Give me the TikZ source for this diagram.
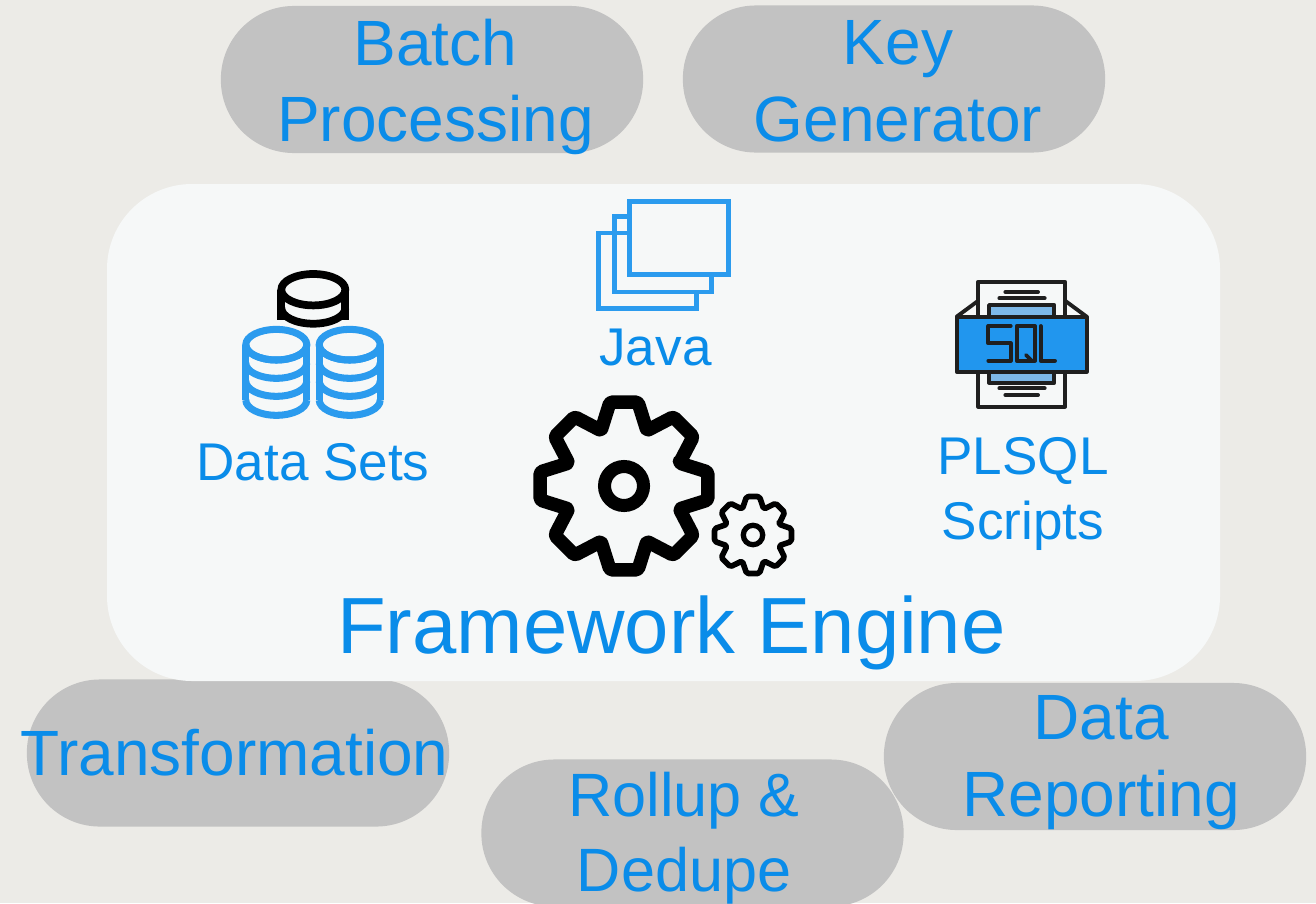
\documentclass[tikz,border=0pt]{standalone}
\usepackage{fontspec}
\setmainfont{Liberation Sans}
\definecolor{pagegray}{HTML}{ECEBE7}
\definecolor{pillgray}{HTML}{C2C2C2}
\definecolor{enginewhite}{HTML}{F6F8F8}
\definecolor{labelblue}{HTML}{0A8CE9}
\definecolor{iconblue}{HTML}{2B9BEE}
\definecolor{sqlblue}{HTML}{2196EE}
\definecolor{sqllight}{HTML}{7DB8E8}
\definecolor{sqldark}{HTML}{1F1F1F}

\newcommand{\gearicon}[5]{
    \begin{scope}[shift={(#1, #2)}]
        \draw[black, line width=#5, line join=round, rounded corners=.5pt] (-22.5:#4) \foreach \a in {0,45,...,315} {-- (\a-9.5:#3) -- (\a+9.5:#3) -- (\a+22.5:#4)} -- cycle;
    \end{scope}
}

\begin{document}
\begin{tikzpicture}[x=.01cm, y=-.01cm,
        pill/.style={fill=pillgray, rounded corners=.73cm, minimum width=4.22cm, minimum height=1.47cm, inner sep=0pt},
        pilltext/.style={text=labelblue, align=center, inner sep=0pt, font=\fontsize{18.2}{21.8}\selectfont},
        iconlabel/.style={text=labelblue, align=center, font=\fontsize{15.1}{18.4}\selectfont},
        tube/.style={iconblue, line width=2pt},
        sheet/.style={iconblue, line width=1.35pt},
        sqlline/.style={sqldark, line width=1.1pt, line join=round, line cap=round}]
                \path[use as bounding box, fill=pagegray] (0, 0) rectangle (1316, 903);
                \clip (0, 0) rectangle (1316, 903);

                \node[pill] (batch) at (432, 79.5) {};
                \node[pill] (key) at (894, 79) {};
                \node[pill] (transform) at (238, 753) {};
                \node[pill] (rollup) at (692.5, 833) {};
                \node[pill] (report) at (1095, 756.5) {};

                \node[pilltext] (batchtext) at (435.5, 87) {Batch\\Processing};
                \node[pilltext] (keytext) at (898, 81) {Key\\Generator};
                \node[pilltext] (transformtext) at (234.5, 753) {Transformation};
                \node[pilltext, font=\fontsize{17.4}{21.4}\selectfont] (rolluptext) at (684, 838) {Rollup \&\\Dedupe};
                \node[pilltext] (reporttext) at (1101, 762.5) {Data\\Reporting};

                \fill[enginewhite, rounded corners=.85cm] (107, 184) rectangle (1220, 681);

                \draw[black, line width=2.2pt] (313.3, 289.7) ellipse (32 and 15.7);
                \draw[black, line width=2.2pt] (281.3, 289.7) -- (281.3, 320);
                \draw[black, line width=2.2pt] (345.3, 289.7) -- (345.3, 320);
                \draw[black, line width=2.2pt] (281.3, 308) arc[start angle=180, end angle=360, x radius=32, y radius=-15.7];

                \foreach \cx in {276.3, 349.7} {
                    \draw[tube] (\cx, 344.7) ellipse (30.5 and 15.3);
                    \draw[tube] (\cx-30.5, 344.7) -- (\cx-30.5, 400);
                    \draw[tube] (\cx+30.5, 344.7) -- (\cx+30.5, 400);
                    \foreach \cy in {344.7, 363, 381, 400}
                        \draw[tube] (\cx-30.5, \cy) arc[start angle=180, end angle=360, x radius=30.5, y radius=-15.3];
                }
                \node[iconlabel] (datasets) at (313, 462) {Data Sets};

                \draw[sheet] (629.5, 233) -- (598.5, 233) -- (598.5, 308.5) -- (696.5, 308.5) -- (696.5, 292);
                \draw[sheet] (629.5, 216.5) -- (614.3, 216.5) -- (614.3, 292) -- (711.5, 292) -- (711.5, 274.5);
                \draw[sheet] (629.5, 201.5) rectangle (728.5, 274.5);
                \node[iconlabel] (java) at (655.5, 347) {Java};

                \gearicon{624}{486}{85}{60}{3.85pt}
                \draw[black, line width=3.7pt] (624, 486) circle (19.5);
                \gearicon{753}{535}{39}{28}{1.6pt}
                \draw[black, line width=1.5pt] (753, 535) circle (9.7);

                \begin{scope}[shift={(920, 260)}, scale=1/3]
                    \draw[sqlline] (175, 440) rectangle (435, 65);
                    \draw[sqlline] (110, 170) -- (175, 122);
                    \draw[sqlline] (500, 170) -- (435, 122);
                    \draw[sqlline, fill=sqllight] (207, 135) rectangle (403, 368);
                    \draw[sqlline, fill=sqlblue] (110, 170) rectangle (500, 335);
                    \draw[sqlline] (256, 96) -- (354, 96);
                    \draw[sqlline] (238, 115) -- (374, 115);
                    \draw[sqlline] (238, 385) -- (374, 385);
                    \draw[sqlline] (256, 405) -- (354, 405);
                    \draw[sqlline] (272, 198) -- (205, 198) -- (205, 250) -- (272, 250) -- (272, 302) -- (205, 302);
                    \draw[sqlline] (290, 198) rectangle (345, 302);
                    \draw[sqlline] (318, 285) -- (335, 302);
                    \draw[sqlline] (362, 198) -- (362, 302) -- (405, 302);
                \end{scope}
                \node[iconlabel] (plsql) at (1023, 494) {PLSQL\\Scripts};

                \node[text=labelblue, font=\fontsize{22.65}{26}\selectfont] (engine) at (671.5, 633) {Framework Engine};
\end{tikzpicture}
\end{document}
